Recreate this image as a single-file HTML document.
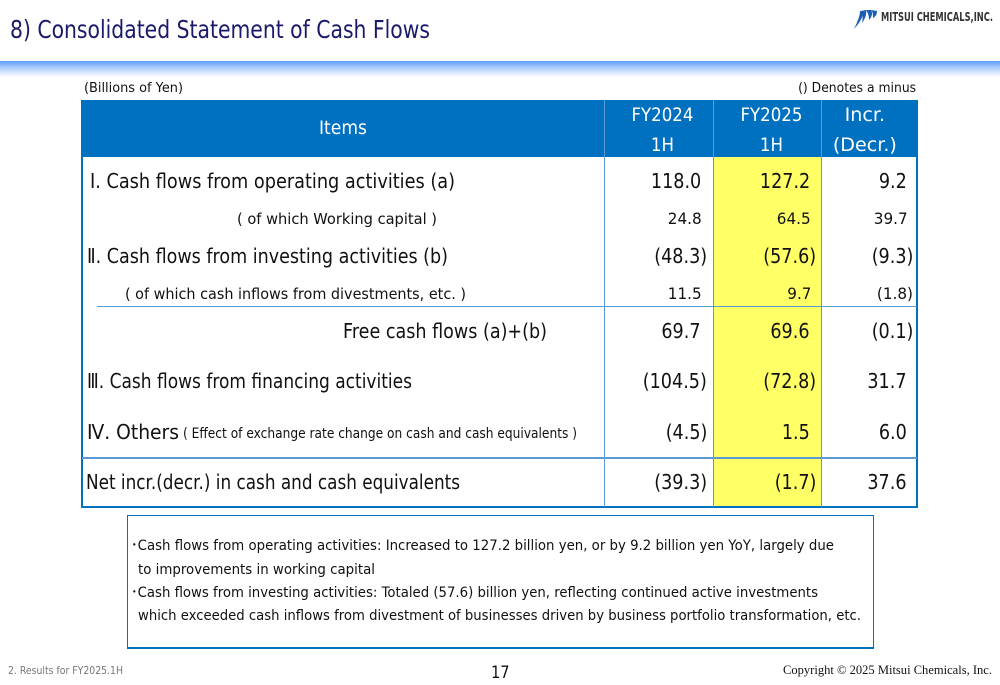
<!DOCTYPE html>
<html><head><meta charset="utf-8">
<style>
body{margin:0;width:1000px;height:685px;position:relative;overflow:hidden;background:#fff;font-family:"DejaVu Sans","Liberation Sans",sans-serif;color:#111}
.t{position:absolute;white-space:nowrap;line-height:1}
.band{position:absolute;left:0;top:61px;width:1000px;height:16px;background:linear-gradient(#5d9ef6,#a9cbfb 40%,#fff)}
.ln{position:absolute;background:#0070c0}
.thin{position:absolute;background:#5b9bd5}
</style></head><body>
<div class="t" data-fit="420" style="left:10px;top:17px;font-size:25px;color:#1a1a6b">8) Consolidated Statement of Cash Flows</div>
<svg style="position:absolute;left:852px;top:7px" width="26" height="23" viewBox="0 0 26 23"><path d="M2 22 C6 14 8 8 8 4 L12 4 C11 10 7 17 2 22Z M9 4 L14 3 C15 7 13 12 10 16 C11 11 11 7 9 4Z M14 3 L19 3 C21 6 20 10 17 13 C17 9 16 6 14 3Z M19 3 L25 4 C25 8 23 10 21 11 C21 8 21 5 19 3Z" fill="#1a5fb4"/></svg>
<div class="t" data-fit="112" style="left:881px;top:11px;font-size:12px;font-weight:bold;color:#333">MITSUI CHEMICALS,INC.</div>
<div class="band"></div>

<div class="t" data-fit="99" style="left:84px;top:82px;font-size:13px">(Billions of Yen)</div>
<div class="t" data-fit="118" data-right="1" style="right:84px;top:82px;font-size:13px">() Denotes a minus</div>

<div>
<div style="position:absolute;left:82px;top:100px;width:836px;height:57px;background:#0070c0"></div>
<div style="position:absolute;left:714px;top:157px;width:107px;height:350px;background:#ffff66"></div>
<div class="ln" style="left:81px;top:100px;width:2px;height:408px"></div>
<div class="ln" style="left:916px;top:100px;width:2px;height:408px"></div>
<div class="ln" style="left:81px;top:506px;width:837px;height:2px"></div>
<div class="thin" style="left:604px;top:100px;width:1px;height:407px"></div>
<div class="thin" style="left:713px;top:100px;width:1px;height:407px"></div>
<div class="thin" style="left:821px;top:100px;width:1px;height:407px"></div>
<div class="thin" style="left:97px;top:306px;width:820px;height:1px"></div>
<div class="thin" style="left:82px;top:457px;width:835px;height:2px"></div>

<div class="t" style="left:319px;top:119px;font-size:19px;color:#fff" data-fit="48">Items</div>
<div class="t" style="left:627px;top:100px;font-size:19px;color:#fff;text-align:center;line-height:30px" data-fit="62">FY2024<br>1H</div>
<div class="t" style="left:736px;top:100px;font-size:19px;color:#fff;text-align:center;line-height:30px" data-fit="62">FY2025<br>1H</div>
<div class="t" style="left:833px;top:100px;font-size:19px;color:#fff;text-align:center;line-height:30px" data-fit="64">Incr.<br>(Decr.)</div>
</div>
<div id="rows"></div>

<div style="position:absolute;left:127px;top:515px;width:745px;height:131px;border:1px solid #0070c0;border-bottom:2px solid #0070c0"></div>
<div class="t" data-fit="703" style="left:131px;top:539px;font-size:14px">･Cash flows from operating activities: Increased to 127.2 billion yen, or by 9.2 billion yen YoY, largely due</div>
<div class="t" data-fit="237" style="left:138px;top:563px;font-size:14px">to improvements in working capital</div>
<div class="t" data-fit="687" style="left:131px;top:586px;font-size:14px">･Cash flows from investing activities: Totaled (57.6) billion yen, reflecting continued active investments</div>
<div class="t" data-fit="723" style="left:138px;top:609px;font-size:14px">which exceeded cash inflows from divestment of businesses driven by business portfolio transformation, etc.</div>

<div class="t" data-fit="115" style="left:8px;top:665px;font-size:11px;color:#777">2. Results for FY2025.1H</div>
<div class="t" style="left:491px;top:665px;font-size:17px">17</div>
<div class="t" data-fit="209" style="left:783px;top:663px;font-size:13px;font-family:'Liberation Serif',serif">Copyright © 2025 Mitsui Chemicals, Inc.</div>

<script>
const labels=["Ⅰ.  Cash flows from operating activities  (a)","( of which Working capital )","Ⅱ.  Cash flows from investing activities  (b)","( of which cash inflows from divestments, etc. )","Free cash flows  (a)+(b)","Ⅲ.  Cash flows from financing activities","Ⅳ.  Others","Net incr.(decr.) in cash and cash equivalents"];
const fy2024=["118.0","24.8","(48.3)","11.5","69.7","(104.5)","(4.5)","(39.3)"];
const fy2025=["127.2","64.5","(57.6)","9.7","69.6","(72.8)","1.5","(1.7)"];
const incr=["9.2","39.7","(9.3)","(1.8)","(0.1)","31.7","6.0","37.6"];
const rowY=[182,220,257,295,332,382,433,483];
const small=[false,true,false,true,false,false,false,false];
const labX=[90,237,87,125,343,87,87,86];
const labW=[365,200,361,341,204,325,92,374];
const rightEdges=[707,816,913];
const rows=document.getElementById('rows');
function mk(txt,style,name,fit,right,sx){const d=document.createElement('div');d.className='t';d.textContent=txt;d.style.cssText=style;


if(fit)d.dataset.fit=fit;if(right)d.dataset.right='1';if(sx)d.dataset.sx=sx;rows.appendChild(d);return d;}
labels.forEach((l,i)=>{const fs=small[i]?15:20;const top=rowY[i]-fs*0.55;
mk(l,`left:${labX[i]}px;top:${top}px;font-size:${fs}px`,'row-label-'+i,labW[i]);
[fy2024,fy2025,incr].forEach((arr,c)=>{const v=arr[i];const pad=v.endsWith(')')?0:(small[i]?5:6);const nfs=small[i]?16:20;
mk(v,`right:${1000-rightEdges[c]+pad}px;top:${rowY[i]-nfs*0.55}px;font-size:${nfs}px`,['fy2024','fy2025','incr'][c]+'-value-'+i,null,true,small[i]?0.95:0.88);});
});
mk("( Effect of exchange rate change on cash and cash equivalents )","left:183px;top:427px;font-size:14px","others-note",394);
document.querySelectorAll('.t').forEach(e=>{
 let sx=e.dataset.sx?+e.dataset.sx:0.86;
 if(e.dataset.fit){sx=(+e.dataset.fit)/e.getBoundingClientRect().width;}
 e.style.transformOrigin=e.dataset.right?'right top':(e.style.textAlign=='center'?'center top':'left top');
 e.style.transform='scaleX('+sx+')';
});
</script>
</body></html>
